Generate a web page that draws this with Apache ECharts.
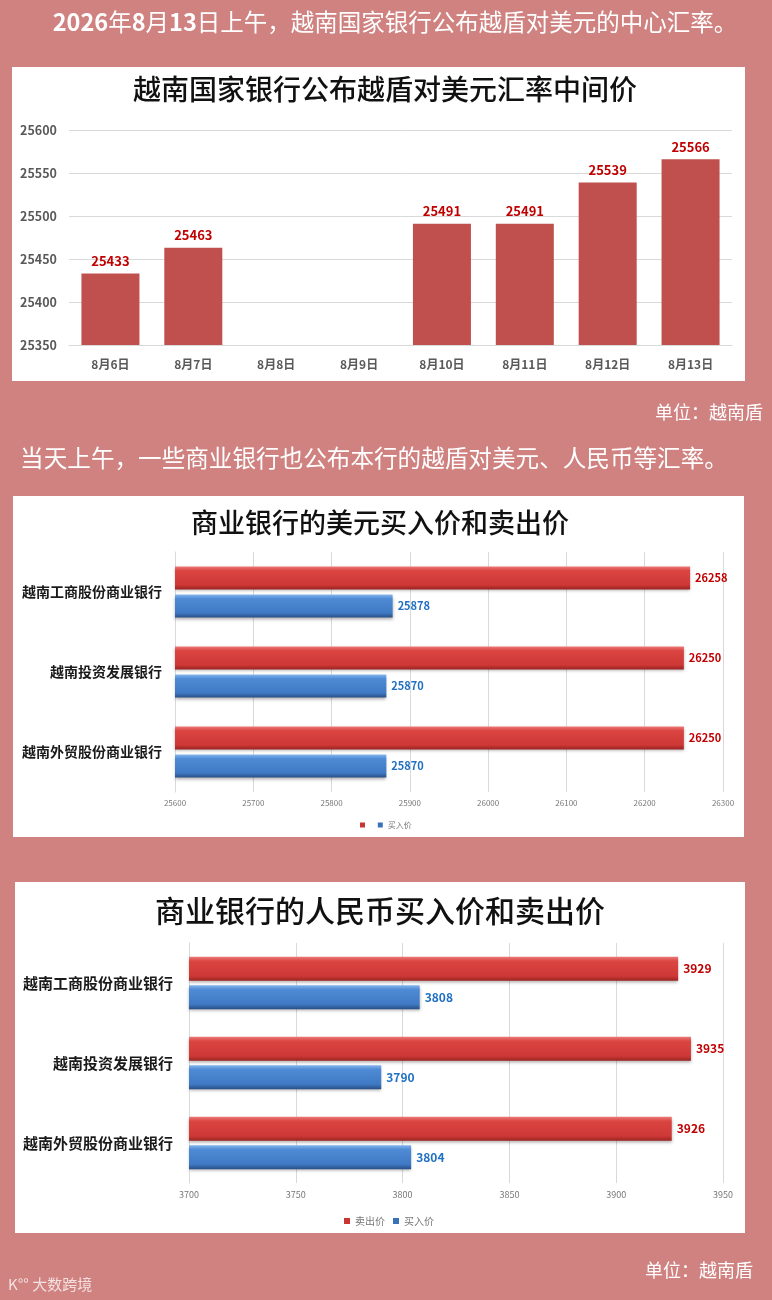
<!DOCTYPE html>
<html lang="zh-CN" style="height: 100%">
<head>
  <meta charset="utf-8">
</head>
<body style="height: 100%; margin: 0; background: #CF8280">
  <div id="container" style="width: 772px; height: 1300px"></div>
  <script type="text/javascript" src="https://cdn.jsdelivr.net/npm/echarts@6.0.0/dist/echarts.min.js"></script>
  <script type="text/javascript">
    // 数据
    var dates = ['8月6日', '8月7日', '8月8日', '8月9日', '8月10日', '8月11日', '8月12日', '8月13日'];
    var midRates = [25433, 25463, null, null, 25491, 25491, 25539, 25566];
    var banks = ['越南工商股份商业银行', '越南投资发展银行', '越南外贸股份商业银行'];
    var usdSell = [26258, 26250, 26250];
    var usdBuy = [25878, 25870, 25870];
    var cnySell = [3929, 3935, 3926];
    var cnyBuy = [3808, 3790, 3804];
    var midTicks = [25350, 25600, 50];
    var usdTicks = [25600, 26300, 100];
    var cnyTicks = [3700, 3950, 50];

    var FONT = 'Noto Sans CJK SC';
    var BG = '#CF8280';
    var GRID_LINE = '#D9D9D9';

    // 不要千位分隔符
    function plain(v) { return String(v); }

    // 仿 Excel 立体条形的渐变
    function grad(c0, c1, c2, c3) {
      return new echarts.graphic.LinearGradient(0, 0, 0, 1, [
        { offset: 0, color: c0 },
        { offset: 0.18, color: c1 },
        { offset: 0.8, color: c2 },
        { offset: 1, color: c3 }
      ]);
    }
    var redStyle = {
      color: grad('#EC7A78', '#DA4542', '#CE3836', '#9A2322'),
      shadowColor: 'rgba(0,0,0,0.3)', shadowBlur: 3, shadowOffsetY: 2
    };
    var blueStyle = {
      color: grad('#86B5EC', '#4F8BD5', '#3F79C3', '#284F86'),
      shadowColor: 'rgba(0,0,0,0.3)', shadowBlur: 3, shadowOffsetY: 2
    };

    function valueAxis(ticks, idx, fs, color) {
      return {
        type: 'value', gridIndex: idx, min: ticks[0], max: ticks[1], interval: ticks[2],
        axisLine: { show: false }, axisTick: { show: false },
        splitLine: { lineStyle: { color: GRID_LINE } },
        axisLabel: { fontFamily: FONT, fontSize: fs, color: color, margin: 7, formatter: plain }
      };
    }
    function bankAxis(idx, fs, margin) {
      return {
        type: 'category', gridIndex: idx, data: banks, inverse: true,
        axisLine: { lineStyle: { color: GRID_LINE } }, axisTick: { show: false },
        axisLabel: { fontFamily: FONT, fontSize: fs, fontWeight: 'bold', color: '#1A1A1A', margin: margin }
      };
    }

    var myChart = echarts.init(document.getElementById('container'));
    myChart.setOption({
      backgroundColor: BG,
      animation: false,
      graphic: [
        { type: 'rect', z: -10, shape: { x: 12, y: 67, width: 733, height: 314 }, style: { fill: '#fff' } },
        { type: 'rect', z: -10, shape: { x: 13, y: 496, width: 731, height: 341 }, style: { fill: '#fff' } },
        { type: 'rect', z: -10, shape: { x: 15, y: 882, width: 730, height: 351 }, style: { fill: '#fff' } },
        {
          type: 'text', x: 395, y: 22,
          style: {
            text: '{b|2026}年{b|8}月{b|13}日上午，越南国家银行公布越盾对美元的中心汇率。',
            fontFamily: FONT, fontSize: 23.5, fill: '#fff', align: 'center', verticalAlign: 'middle',
            rich: { b: { fontFamily: FONT, fontSize: 23.5, fontWeight: 'bold', fill: '#fff' } }
          }
        },
        {
          type: 'text', x: 385, y: 89,
          style: { text: '越南国家银行公布越盾对美元汇率中间价', fontFamily: FONT, fontSize: 28, fontWeight: 500, fill: '#111', align: 'center', verticalAlign: 'middle' }
        },
        {
          type: 'text', x: 763, y: 412,
          style: { text: '单位：越南盾', fontFamily: FONT, fontSize: 18, fill: '#fff', align: 'right', verticalAlign: 'middle' }
        },
        {
          type: 'text', x: 374, y: 458,
          style: { text: '当天上午，一些商业银行也公布本行的越盾对美元、人民币等汇率。', fontFamily: FONT, fontSize: 23.6, fill: '#fff', align: 'center', verticalAlign: 'middle' }
        },
        {
          type: 'text', x: 380, y: 523,
          style: { text: '商业银行的美元买入价和卖出价', fontFamily: FONT, fontSize: 27, fontWeight: 500, fill: '#111', align: 'center', verticalAlign: 'middle' }
        },
        {
          type: 'text', x: 380, y: 911,
          style: { text: '商业银行的人民币买入价和卖出价', fontFamily: FONT, fontSize: 30, fontWeight: 500, fill: '#111', align: 'center', verticalAlign: 'middle' }
        },
        {
          type: 'text', x: 753, y: 1270,
          style: { text: '单位：越南盾', fontFamily: FONT, fontSize: 18, fill: '#fff', align: 'right', verticalAlign: 'middle' }
        },
        {
          type: 'text', x: 8, y: 1284,
          style: { text: 'K°° 大数跨境', fontFamily: FONT, fontSize: 15, fill: 'rgba(255,255,255,0.75)', align: 'left', verticalAlign: 'middle' }
        }
      ],
      legend: [
        {
          left: 355, top: 816, itemWidth: 5, itemHeight: 5, itemGap: 6, icon: 'rect',
          textStyle: { fontFamily: FONT, fontSize: 8, color: '#777' },
          data: [{ name: ' ', itemStyle: { color: '#C83533' } }, { name: '买入价', itemStyle: { color: '#3A72BA' } }]
        },
        {
          left: 339, top: 1211, itemWidth: 6, itemHeight: 6, itemGap: 8, icon: 'rect',
          textStyle: { fontFamily: FONT, fontSize: 10, color: '#777' },
          data: [{ name: '卖出价', itemStyle: { color: '#C83533' } }, { name: '买入价', itemStyle: { color: '#3A72BA' } }]
        }
      ],
      grid: [
        { left: 69, top: 130, width: 663, height: 215, outerBoundsMode: 'none' },
        { left: 175, top: 552, width: 548, height: 240, outerBoundsMode: 'none' },
        { left: 189, top: 943, width: 534, height: 240, outerBoundsMode: 'none' }
      ],
      xAxis: [
        {
          type: 'category', gridIndex: 0, data: dates,
          axisLine: { lineStyle: { color: GRID_LINE } }, axisTick: { show: false },
          axisLabel: { fontFamily: FONT, fontSize: 12, fontWeight: 'bold', color: '#595959', margin: 13 }
        },
        valueAxis(usdTicks, 1, 8, '#777'),
        valueAxis(cnyTicks, 2, 9, '#777')
      ],
      yAxis: [
        {
          type: 'value', gridIndex: 0, min: midTicks[0], max: midTicks[1], interval: midTicks[2],
          axisLine: { show: false }, axisTick: { show: false },
          splitLine: { lineStyle: { color: GRID_LINE } },
          axisLabel: { fontFamily: FONT, fontSize: 12.5, fontWeight: 'bold', color: '#595959', margin: 12, formatter: plain }
        },
        bankAxis(1, 14, 13),
        bankAxis(2, 15, 16)
      ],
      series: [
        {
          name: '中间价', type: 'bar', xAxisIndex: 0, yAxisIndex: 0, data: midRates, barWidth: '70%',
          itemStyle: { color: '#C0504D' },
          label: { show: true, position: 'top', distance: 6, fontFamily: FONT, fontSize: 13, fontWeight: 'bold', color: '#C00000' }
        },
        {
          name: ' ', type: 'bar', xAxisIndex: 1, yAxisIndex: 1, data: usdSell, barWidth: 23, barGap: '22%',
          itemStyle: redStyle,
          label: { show: true, position: 'right', distance: 5, fontFamily: FONT, fontSize: 11, fontWeight: 'bold', color: '#C00000' }
        },
        {
          name: '买入价', type: 'bar', xAxisIndex: 1, yAxisIndex: 1, data: usdBuy, barWidth: 23, barGap: '22%',
          itemStyle: blueStyle,
          label: { show: true, position: 'right', distance: 5, fontFamily: FONT, fontSize: 11, fontWeight: 'bold', color: '#1F6FC4' }
        },
        {
          name: '卖出价', type: 'bar', xAxisIndex: 2, yAxisIndex: 2, data: cnySell, barWidth: 24, barGap: '18%',
          itemStyle: redStyle,
          label: { show: true, position: 'right', distance: 5, fontFamily: FONT, fontSize: 12, fontWeight: 'bold', color: '#C00000' }
        },
        {
          name: '买入价', type: 'bar', xAxisIndex: 2, yAxisIndex: 2, data: cnyBuy, barWidth: 24, barGap: '18%',
          itemStyle: blueStyle,
          label: { show: true, position: 'right', distance: 5, fontFamily: FONT, fontSize: 12, fontWeight: 'bold', color: '#1F6FC4' }
        }
      ]
    });
  </script>
</body>
</html>
